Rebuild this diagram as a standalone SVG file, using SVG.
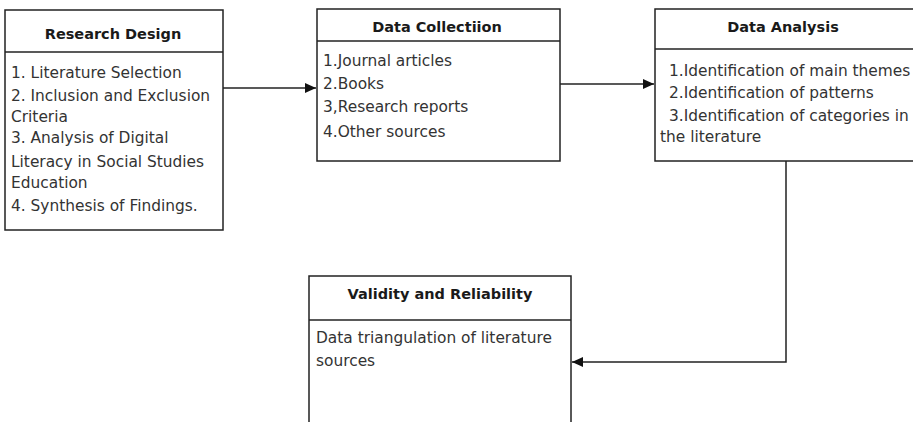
<svg xmlns="http://www.w3.org/2000/svg" width="913" height="422" viewBox="0 0 913 422">
<style>
.box{fill:#fff;stroke:#222;stroke-width:1.5}
.div{stroke:#222;stroke-width:1.5}
.t{font-family:"DejaVu Sans",sans-serif;font-size:14.5px;font-weight:bold;fill:#1a1a1a;text-anchor:middle}
.b{font-family:"DejaVu Sans",sans-serif;font-size:15.4px;fill:#333}
.c{fill:none;stroke:#222;stroke-width:1.5}
</style>
<defs>
<marker id="ah" markerWidth="12" markerHeight="12" refX="11" refY="6" orient="auto" markerUnits="userSpaceOnUse">
<path d="M0,1 L11,6 L0,11 Z" fill="#111"/>
</marker>
</defs>
<rect width="913" height="422" fill="#fff"/>
<g id="connectors">
<line class="c" x1="223" y1="88" x2="316" y2="88" marker-end="url(#ah)"/>
<line class="c" x1="560" y1="84" x2="654" y2="84" marker-end="url(#ah)"/>
<polyline class="c" points="786,161 786,362 572,362" marker-end="url(#ah)"/>
</g>
<g id="research-design">
<rect class="box" x="5" y="10" width="218" height="220"/>
<line class="div" x1="5" y1="52" x2="223" y2="52"/>
<text class="t" x="113" y="39">Research Design</text>
<text class="b" x="11" y="78">1. Literature Selection</text>
<text class="b" x="11" y="101">2. Inclusion and Exclusion</text>
<text class="b" x="11" y="122">Criteria</text>
<text class="b" x="11" y="143">3. Analysis of Digital</text>
<text class="b" x="11" y="167">Literacy in Social Studies</text>
<text class="b" x="11" y="188">Education</text>
<text class="b" x="11" y="211">4. Synthesis of Findings.</text>
</g>
<g id="data-collection">
<rect class="box" x="317" y="9" width="243" height="152"/>
<line class="div" x1="317" y1="41" x2="560" y2="41"/>
<text class="t" x="437" y="32">Data Collectiion</text>
<text class="b" x="323" y="66">1.Journal articles</text>
<text class="b" x="323" y="89">2.Books</text>
<text class="b" x="323" y="112">3,Research reports</text>
<text class="b" x="323" y="137">4.Other sources</text>
</g>
<g id="data-analysis">
<rect class="box" x="655" y="9" width="265" height="152"/>
<line class="div" x1="655" y1="49" x2="920" y2="49"/>
<text class="t" x="783" y="32">Data Analysis</text>
<text class="b" x="669" y="76">1.Identification of main themes</text>
<text class="b" x="669" y="98">2.Identification of patterns</text>
<text class="b" x="669" y="121">3.Identification of categories in</text>
<text class="b" x="660" y="142">the literature</text>
</g>
<g id="validity-reliability">
<rect class="box" x="309" y="276" width="262" height="160"/>
<line class="div" x1="309" y1="320" x2="571" y2="320"/>
<text class="t" x="440" y="299">Validity and Reliability</text>
<text class="b" x="316" y="343">Data triangulation of literature</text>
<text class="b" x="316" y="366">sources</text>
</g>
</svg>
